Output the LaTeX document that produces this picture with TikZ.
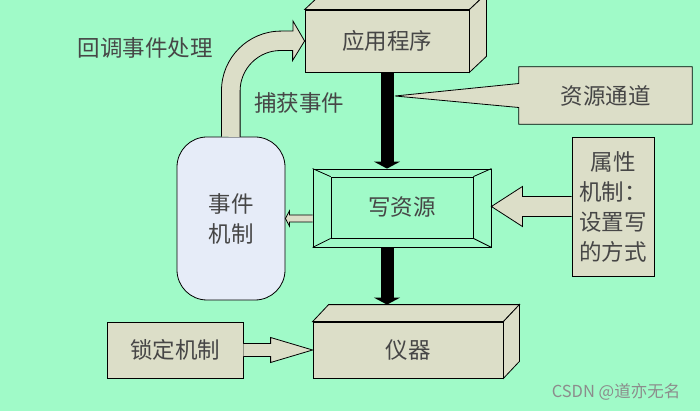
\documentclass[tikz,border=0pt]{standalone}
\usepackage{fontspec}
\setmainfont{Noto Sans CJK SC}
\usetikzlibrary{calc}
\usetikzlibrary{arrows.meta}

\definecolor{bggreen}{RGB}{160,250,200}
\definecolor{boxbeige}{RGB}{220,222,200}
\definecolor{eventblue}{RGB}{230,236,248}
\definecolor{textgray}{RGB}{70,70,70}
\definecolor{markgray}{RGB}{140,140,140}

\tikzset{
    box/.style={draw,fill=boxbeige,line width=0.8pt,inner sep=0pt},
    label/.style={text=textgray,font=\fontsize{22.5}{30}\selectfont},
    blockfill/.style={fill=boxbeige,draw=black,line width=0.8pt,line join=miter},
    flow/.style={line width=13pt,-{Triangle[width=26pt,length=7pt]}}
}

% block arrow: start, end, shaft half width, head half width, head length
\newcommand{\blockarrow}[5]{%
    \coordinate (ba-h) at ($(#2)!#5!(#1)$);
    \filldraw[blockfill] ($(#1)!#3!90:(#2)$) -- ($(ba-h)!#3!-90:(#1)$) -- ($(ba-h)!#4!-90:(#1)$) -- (#2) -- ($(ba-h)!#4!90:(#1)$) -- ($(ba-h)!#3!90:(#1)$) -- ($(#1)!#3!-90:(#2)$);
}

\begin{document}
\begin{tikzpicture}[x=1pt,y=1pt]
    \useasboundingbox (0,0) rectangle (700,-411);
    \clip (0,0) rectangle (700,-411);
    \fill[bggreen] (0,0) rectangle (700,-411);

    % boxes
    \node[box,label,minimum width=164pt,minimum height=62pt] (app) at (387,-41) {应用程序};
    \filldraw[box] (app.north west) -- ++(17,16) -- ($(app.north east)+(17,16)$) -- (app.north east) -- cycle;
    \filldraw[box] (app.north east) -- ++(17,16) -- ($(app.south east)+(17,16)$) -- (app.south east) -- cycle;

    \node[box,label,minimum width=190pt,minimum height=56pt] (dev) at (408,-350) {仪器};
    \coordinate (dev-back) at ($(dev.north west)+(16,17)$);
    \filldraw[box] (dev.north west) -- (dev-back) -- ($(dev.north east)+(16,17)$) -- (dev.north east) -- cycle;
    \filldraw[box] (dev.north east) -- ++(16,17) -- ($(dev.south east)+(16,17)$) -- (dev.south east) -- cycle;

    \node[box,label,minimum width=136pt,minimum height=56pt] (lock) at (175,-350) {锁定机制};

    \node[box,label,minimum width=82pt,minimum height=139pt,align=center] (attr) at (613,-206.5) {属性\\机制：\\设置写\\的方式};

    \node[draw,fill=eventblue,line width=0.8pt,rounded corners=30pt,label,align=center,
          minimum width=108pt,minimum height=163pt] (event) at (231,-218.5) {事件\\机制};

    % callout
    \node[fill=boxbeige,label,minimum width=173pt,minimum height=57pt] (res) at (605.5,-95.5) {资源通道};
    \coordinate (tap) at (395,-96);
    \fill[boxbeige] ($(res.west)+(0,12)$) -- (tap) -- ($(res.west)+(0,-12)$) -- cycle;
    \draw[line width=0.8pt] (res.north west) -- (res.north east) -- (res.south east) -- (res.south west)
        -- ($(res.west)+(0,-12)$) -- (tap) -- ($(res.west)+(0,12)$) -- cycle;

    % write box with bevel
    \node[draw,line width=0.8pt,minimum width=178pt,minimum height=78pt] (write) at (402,-208) {};
    \node[draw,line width=0.8pt,label,minimum width=142pt,minimum height=61pt] (writein) at (402,-207.5) {写资源};
    \foreach \c in {north west,north east,south west,south east}
        \draw[line width=0.8pt] (write.\c) -- (writein.\c);

    % arrows
    \draw[flow] (app.south) -- (app.south |- write.north);
    \draw[flow] (app.south |- write.south) -- (app.south |- dev-back);

    \blockarrow{lock.east}{dev.west}{6.5pt}{12.5pt}{42pt}
    \coordinate (attr-tip) at (attr.west -| write.east);
    \blockarrow{attr.west}{attr-tip}{10pt}{20pt}{31pt}
    \coordinate (wr-out) at (event.east -| write.west);
    \blockarrow{wr-out}{event.east}{3.5pt}{7.5pt}{4pt}

    \filldraw[blockfill] ($(event.north)+(-9.5,0)$) -- ++(0,46)
        arc[start angle=180,end angle=90,radius=59.5] -- ++(12,0) -- ++(0,10) -- (app.west)
        -- ++(-12,-19.5) -- ++(0,10) -- ++(-12,0)
        arc[start angle=90,end angle=180,radius=40.5] -- ++(0,-46);

    % texts
    \node[label] (cb) at (145,-48) {回调事件处理};
    \node[label] (cap) at (299,-103) {捕获事件};
    \node[text=markgray,font=\fontsize{16.5}{18}\selectfont] (mark) at (616,-392) {CSDN @道亦无名};
\end{tikzpicture}
\end{document}
